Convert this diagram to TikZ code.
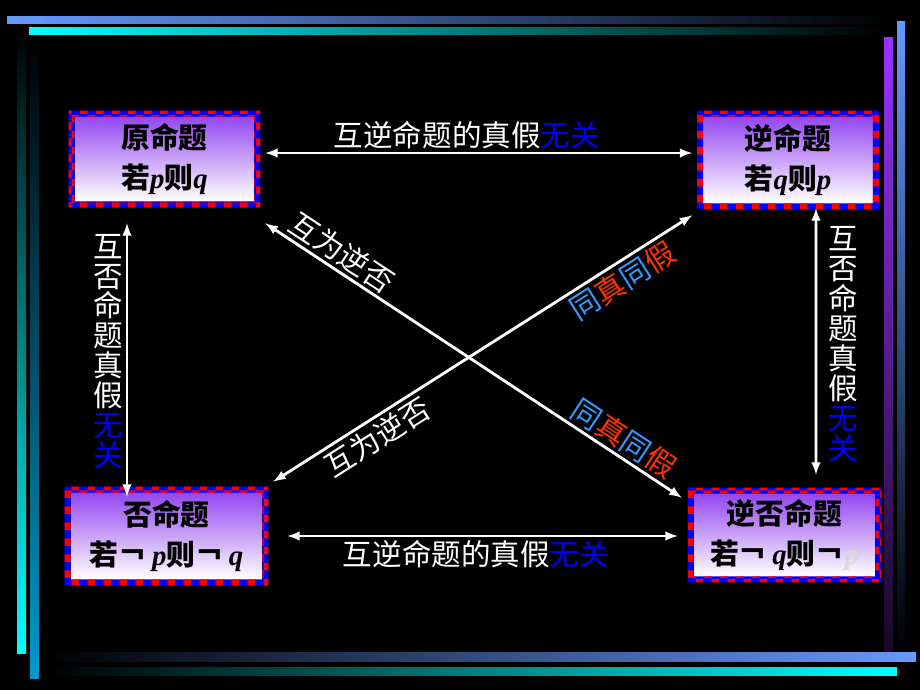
\documentclass[tikz,border=0pt]{standalone}
\usepackage{fontspec}
\setmainfont{Liberation Serif}
\newfontfamily\cjk{Noto Sans CJK SC}
\usetikzlibrary{calc,patterns}
\definecolor{lblue}{HTML}{6699FF}
\definecolor{barblue}{HTML}{0099CC}
\definecolor{barpurple}{HTML}{9933FF}
\definecolor{boxpurple}{HTML}{9447F0}
\definecolor{tblue}{HTML}{3399FF}
\definecolor{tred}{HTML}{FF3300}
\tikzset{
	propbox/.style={top color=boxpurple, bottom color=white, align=center, inner sep=0pt, font=\cjk\bfseries\fontsize{20.5}{28}\selectfont},
	relarrow/.style={latex-latex, white, line width=2pt},
	rellabel/.style={text=white, inner sep=2pt, align=center, font=\cjk\fontsize{21}{21.3}\selectfont},
}
\newcommand{\pv}[1]{{\rmfamily\bfseries\itshape #1}}
\begin{document}
\begin{tikzpicture}[x=0.025cm, y=-0.025cm]
	\useasboundingbox (0,0) rectangle (920,690);
	\fill[black] (0,0) rectangle (920,690);
	
	\shade[top color=black, bottom color=cyan] (17,26) rectangle (26,653);
	\shade[top color=black, bottom color=barblue] (30,35) rectangle (39,678);
	\shade[top color=barpurple, bottom color=barpurple!15!black] (884,38) rectangle (893,652);
	\shade[top color=lblue, bottom color=black] (897,22) rectangle (905,652);
	\shade[left color=lblue, right color=black] (7,17) rectangle (888,24);
	\shade[left color=cyan, right color=black] (29,28) rectangle (888,35);
	\shade[left color=black, right color=lblue] (44,652) rectangle (916,661);
	\shade[left color=black, right color=cyan] (47,667) rectangle (897,675);
	
	\node[propbox, minimum width=4.475cm, minimum height=2.1cm] (yuan) at (164.5,159) {原命题\\若\pv{p}则\pv{q}};
	\node[propbox, minimum width=4.225cm, minimum height=2.15cm] (ni) at (788,160) {逆命题\\若\pv{q}则\pv{p}};
	\node[propbox, minimum width=4.775cm, minimum height=2.15cm] (fou) at (166.5,536) {否命题\\若￢\,\pv{p}则￢\,\pv{q}};
	\node[propbox, minimum width=4.525cm, minimum height=2.05cm] (nifou) at (784.5,535) {逆否命题\\若￢\,\pv{q}则￢{\color{white!85!black}\pv{p}}};
	
	\foreach \n in {yuan,ni,fou,nifou}{
		\fill[blue, even odd rule] ($(\n.south west)+(-6,6)$) rectangle ($(\n.north east)+(6,-6)$) (\n.south west) rectangle (\n.north east);
		\fill[pattern=checkerboard, pattern color=red, even odd rule] ($(\n.south west)+(-6,6)$) rectangle ($(\n.north east)+(6,-6)$) (\n.south west) rectangle (\n.north east);
	}
	
	\draw[relarrow] ($(yuan.east)+(11,-6)$) -- ($(ni.west)+(-11,-7)$) node[rellabel, pos=0.472, above] {互逆命题的真假{\color{blue}无关}};
	\draw[relarrow] ($(fou.east)+(25,0)$) -- ($(nifou.west)+(-16,1)$) node[rellabel, pos=0.483, below] {互逆命题的真假{\color{blue}无关}};
	\draw[relarrow] ($(yuan.south)+(-37.5,22)$) -- ($(fou.north)+(-39.5,4)$) node[rellabel, pos=0.469, left] {互\\否\\命\\题\\真\\假\\{\color{blue}无}\\{\color{blue}关}};
	\draw[relarrow] ($(ni.south)+(28,5)$) -- ($(nifou.north)+(31.5,-19)$) node[rellabel, pos=0.51, right, xshift=0.2cm] {互\\否\\命\\题\\真\\假\\{\color{blue}无}\\{\color{blue}关}};
	
	\draw[relarrow] ($(yuan.south east)+(11,22)$) -- ($(nifou.north west)+(-12,4)$)
		node[rellabel, sloped, above, pos=0.161] {互为逆否}
		node[rellabel, sloped, above, pos=0.838] {{\color{tblue}同}{\color{tred}真}{\color{tblue}同}{\color{tred}假}};
	\draw[relarrow] ($(fou.north east)+(11,-11)$) -- ($(ni.south west)+(-11,12)$)
		node[rellabel, sloped, below, pos=0.225] {互为逆否}
		node[rellabel, sloped, below, pos=0.811] {{\color{tblue}同}{\color{tred}真}{\color{tblue}同}{\color{tred}假}};
\end{tikzpicture}
\end{document}
